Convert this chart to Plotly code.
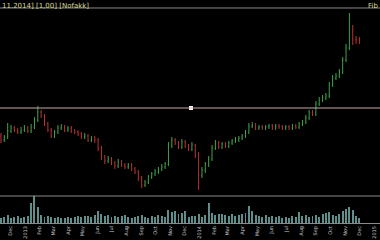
import plotly.graph_objects as go
import pandas as pd

# ---- data (weekly bars) ----
start_date = "2012-11-12"
n_bars = 108

opens = [64, 60, 63, 69, 72, 70, 68, 70, 72, 69, 73, 80, 88, 84, 76, 70, 64, 68, 72, 73,
         70, 72, 69, 68, 66, 63, 64, 60, 62, 60, 52, 43, 39, 41, 37, 34, 38, 35, 33, 35,
         31, 28, 22, 15, 18, 23, 26, 28, 31, 33, 36, 55, 60, 57, 53, 58, 54, 51, 55, 45,
         25, 30, 36, 41, 52, 57, 53, 56, 54, 57, 59, 60, 62, 64, 68, 74, 75, 72, 73, 72,
         73, 74, 72, 74, 73, 72, 73, 72, 74, 73, 76, 78, 82, 87, 86, 96, 100, 102, 104, 115,
         122, 124, 128, 140, 152, 170, 160, 160]
highs = [67, 65, 77, 75, 74, 72, 73, 75, 74, 76, 83, 94, 90, 86, 78, 72, 70, 75, 76, 75,
         74, 74, 71, 70, 68, 67, 66, 64, 64, 62, 54, 45, 44, 43, 39, 41, 40, 37, 37, 37,
         33, 30, 24, 20, 25, 28, 31, 33, 36, 38, 58, 63, 62, 59, 61, 60, 56, 58, 56, 48,
         33, 38, 44, 55, 60, 59, 58, 58, 59, 61, 63, 64, 66, 70, 77, 78, 77, 75, 75, 75,
         76, 76, 76, 76, 75, 75, 75, 76, 76, 78, 80, 85, 90, 90, 99, 103, 105, 107, 118, 125,
         127, 131, 143, 156, 187, 175, 164, 163]
lows = [57, 58, 61, 67, 68, 66, 66, 68, 67, 67, 71, 78, 82, 74, 68, 62, 62, 66, 70, 68,
        68, 67, 66, 64, 61, 61, 58, 58, 57, 49, 40, 36, 37, 35, 31, 32, 33, 31, 31, 29,
        26, 19, 12, 13, 16, 21, 24, 26, 29, 31, 34, 52, 55, 51, 51, 52, 49, 49, 42, 10,
        22, 27, 33, 39, 50, 51, 51, 52, 52, 55, 57, 58, 60, 62, 66, 72, 70, 70, 70, 70,
        71, 70, 70, 71, 70, 70, 70, 70, 71, 71, 74, 76, 80, 84, 84, 94, 98, 100, 102, 113,
        120, 122, 126, 138, 150, 155, 156, 156]
closes = [60, 63, 69, 72, 70, 68, 70, 72, 69, 73, 80, 88, 84, 76, 70, 64, 68, 72, 73, 70,
          72, 69, 68, 66, 63, 64, 60, 62, 60, 52, 43, 39, 41, 37, 34, 38, 35, 33, 35, 31,
          28, 22, 15, 18, 23, 26, 28, 31, 33, 36, 55, 60, 57, 53, 58, 54, 51, 55, 45, 25,
          30, 36, 41, 52, 57, 53, 56, 54, 57, 59, 60, 62, 64, 68, 74, 75, 72, 73, 72, 73,
          74, 72, 74, 73, 72, 73, 72, 74, 73, 76, 78, 82, 87, 86, 96, 100, 102, 104, 115, 122,
          124, 128, 140, 152, 178, 160, 160, 159]
volumes = [5, 6, 8, 5, 6, 7, 5, 6, 7, 21, 29, 17, 8, 6, 7, 6, 5, 6, 5, 5,
           6, 5, 6, 7, 6, 7, 7, 6, 8, 12, 9, 7, 8, 6, 7, 6, 7, 8, 6, 5,
           6, 7, 8, 6, 5, 7, 6, 8, 7, 6, 14, 11, 12, 9, 10, 12, 6, 7, 7, 9,
           6, 8, 21, 10, 8, 9, 9, 8, 7, 9, 7, 8, 9, 10, 18, 12, 8, 7, 6, 8,
           6, 7, 6, 7, 5, 6, 5, 7, 6, 11, 7, 8, 6, 7, 8, 6, 9, 10, 11, 8,
           7, 9, 12, 15, 17, 13, 7, 5]

tick_dates = ["2012-12-01", "2013-01-01", "2013-02-01", "2013-03-01", "2013-04-01",
              "2013-05-01", "2013-06-01", "2013-07-01", "2013-08-01", "2013-09-01",
              "2013-10-01", "2013-11-01", "2013-12-01", "2014-01-01", "2014-02-01",
              "2014-03-01", "2014-04-01", "2014-05-01", "2014-06-01", "2014-07-01",
              "2014-08-01", "2014-09-01", "2014-10-01", "2014-11-01", "2014-12-01",
              "2015-01-01"]
tick_labels = ["Dec", "2013", "Feb", "Mar", "Apr", "May", "Jun", "Jul", "Aug", "Sep",
               "Oct", "Nov", "Dec", "2014", "Feb", "Mar", "Apr", "May", "Jun", "Jul",
               "Aug", "Sep", "Oct", "Nov", "Dec", "2015"]

level_price = [92]
level_anchor_date = ["2013-12-14"]

header_text = "11.2014] [1,00] [Nofakk]"
corner_text = "Fib"

dates = pd.date_range(start_date, periods=n_bars, freq="7D")

fig = go.Figure()
fig.add_trace(go.Ohlc(
    x=dates, open=opens, high=highs, low=lows, close=closes,
    increasing=dict(line=dict(color="#3fa34a", width=1)),
    decreasing=dict(line=dict(color="#b83232", width=1)),
    tickwidth=0.2, xaxis="x", yaxis="y", showlegend=False, hoverinfo="skip"))
fig.add_trace(go.Bar(
    x=dates, y=volumes, width=2 * 86400000,
    marker=dict(color="#5e8f8c", line=dict(width=0)),
    xaxis="x2", yaxis="y2", showlegend=False, hoverinfo="skip"))
fig.add_trace(go.Scatter(
    x=level_anchor_date, y=level_price, mode="markers",
    marker=dict(color="white", size=4, symbol="square"),
    xaxis="x", yaxis="y", showlegend=False, hoverinfo="skip"))

fig.update_layout(
    width=380, height=240, margin=dict(l=0, r=0, t=0, b=0),
    paper_bgcolor="black", plot_bgcolor="black", template="none",
    showlegend=False, bargap=0,
    xaxis=dict(domain=[0, 1], anchor="y", range=["2012-11-10", "2015-01-13"],
               showticklabels=False, showgrid=False, zeroline=False, showline=False,
               ticks="", rangeslider=dict(visible=False), automargin=False),
    xaxis2=dict(domain=[0, 1], anchor="y2", matches="x", range=["2012-11-10", "2015-01-13"],
                tickmode="array", tickvals=tick_dates, ticktext=tick_labels,
                tickangle=-90, tickfont=dict(size=5, color="#c8c8c8", family="DejaVu Sans"),
                showgrid=False, zeroline=False, showline=True, linecolor="#8a8a8a",
                linewidth=1, ticks="", automargin=False),
    yaxis=dict(domain=[0.1833, 0.9667], range=[4, 192], visible=False),
    yaxis2=dict(domain=[0.0708, 0.1833], range=[0, 28], visible=False),
    shapes=[
        dict(type="line", xref="paper", yref="paper", x0=0, x1=1, y0=0.9667, y1=0.9667,
             line=dict(color="#8a8a8a", width=1)),
        dict(type="line", xref="paper", yref="paper", x0=0, x1=1, y0=0.1833, y1=0.1833,
             line=dict(color="#8a8a8a", width=1)),
        dict(type="line", xref="paper", yref="y", x0=0, x1=1, y0=level_price[0], y1=level_price[0],
             line=dict(color="#c9a9a9", width=1)),
    ],
    annotations=[
        dict(xref="paper", yref="paper", x=0, y=1, xanchor="left", yanchor="top",
             text=header_text, showarrow=False,
             font=dict(size=7, color="#d8d890", family="DejaVu Sans")),
        dict(xref="paper", yref="paper", x=1, y=1, xanchor="right", yanchor="top",
             text=corner_text, showarrow=False,
             font=dict(size=7, color="#d8d890", family="DejaVu Sans")),
    ],
)

fig.write_html("out.html")
